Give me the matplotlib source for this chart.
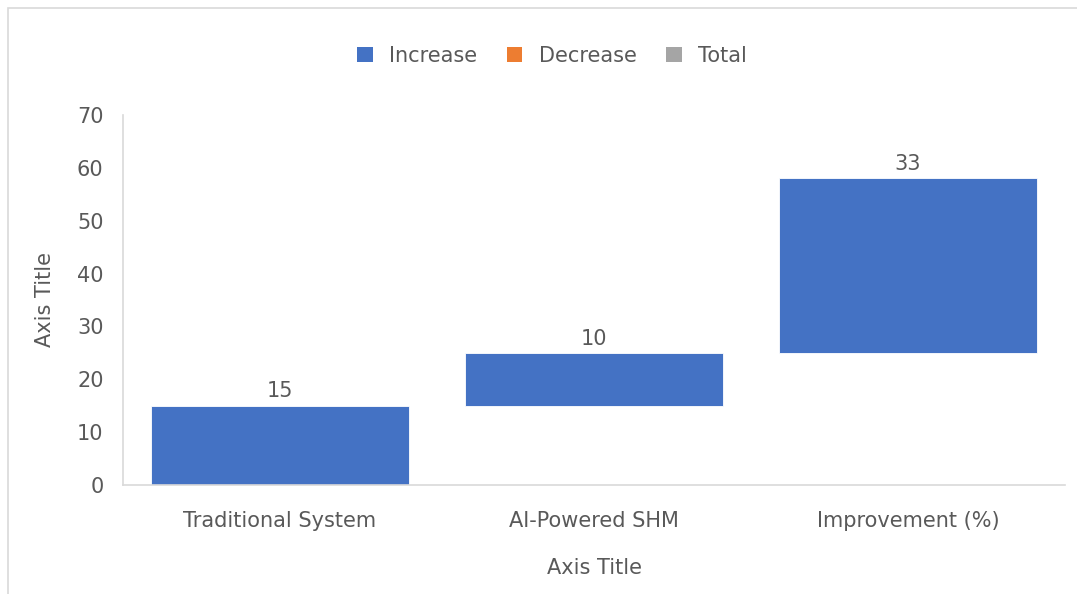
import matplotlib.pyplot as plt
from matplotlib.patches import Patch, Rectangle

# Waterfall data
categories = ["Traditional System", "AI-Powered SHM", "Improvement (%)"]
changes = [15, 10, 33]
legend_labels = ["Increase", "Decrease", "Total"]
legend_colors = ["#4472C4", "#ED7D31", "#A5A5A5"]
y_ticks = [0, 10, 20, 30, 40, 50, 60, 70]

text_color = "#595959"
axis_color = "#D9D9D9"
fs = 15
plt.rcParams["font.family"] = ["DejaVu Sans"]

fig = plt.figure(figsize=(10.77, 5.94), dpi=100)
ax = fig.add_axes([0.1142, 0.1835, 0.8747, 0.6229])

# chart frame
fig.patches.append(Rectangle((8 / 1077, -0.01), 1.1, 1 - 8 / 594 + 0.01,
                             transform=fig.transFigure, fill=False,
                             edgecolor=axis_color, linewidth=1.2))

# running bottoms for the waterfall
bottoms = []
running = 0
for v in changes:
    bottoms.append(running)
    running += v

x = list(range(len(categories)))
ax.bar(x, changes, bottom=bottoms, width=0.82, color=legend_colors[0],
       edgecolor="white", linewidth=0.6)

for xi, b, v in zip(x, bottoms, changes):
    ax.text(xi, b + v + 0.8, str(v), ha="center", va="bottom",
            fontsize=fs, color=text_color)

ax.set_xlim(-0.5, len(categories) - 0.5)
ax.set_ylim(0, 70)
ax.set_yticks(y_ticks)
ax.set_xticks(x)
ax.set_xticklabels(categories)
ax.tick_params(axis="both", length=0, labelsize=fs, colors=text_color)
ax.tick_params(axis="x", pad=18.5)
ax.tick_params(axis="y", pad=14)

for side in ["top", "right"]:
    ax.spines[side].set_visible(False)
for side in ["left", "bottom"]:
    ax.spines[side].set_color(axis_color)
    ax.spines[side].set_linewidth(1.2)

ax.set_xlabel("Axis Title", fontsize=fs, color=text_color, labelpad=20)
ax.set_ylabel("Axis Title", fontsize=fs, color=text_color, labelpad=16)

handles = [Patch(facecolor=c, edgecolor="none") for c in legend_colors]
fig.legend(handles, legend_labels, loc="center", bbox_to_anchor=(552 / 1077, 1 - 56 / 594),
           ncol=3, frameon=False, fontsize=fs, labelcolor=text_color,
           handlelength=0.75, handleheight=0.75, handletextpad=0.8, columnspacing=1.4)

fig.savefig("out.png", dpi=100)
